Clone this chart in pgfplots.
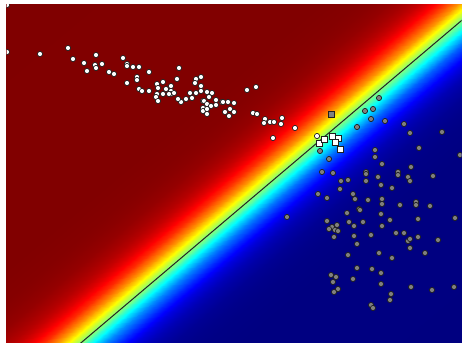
\documentclass[border=0pt]{standalone}
\usepackage{pgfplots}
\pgfplotsset{compat=1.18}
\definecolor{ptgrey}{RGB}{128,128,128}
\definecolor{ptedge}{RGB}{30,30,30}
\definecolor{frame}{RGB}{200,200,200}
\begin{document}
\begin{tikzpicture}
\path[use as bounding box] (-6.5pt,1.5pt) rectangle (455.5pt,343.5pt);
\begin{axis}[
  at={(0pt,0pt)}, anchor=south west,
  scale only axis, width=455pt, height=339pt,
  xmin=6.5, xmax=461.5, ymin=4.5, ymax=343.5, y dir=reverse,
  xtick=\empty, ytick=\empty,
  axis line style={draw=frame, line width=0.8pt},
  colormap/jet, point meta min=0, point meta max=1,
  clip marker paths=true,
]
% probability field: rows parallel to the boundary (s = signed distance, t = position along it)
\addplot[surf, shader=interp, point meta=explicit, mesh/cols=2]
 table[x expr=82-0.6463*\thisrow{s}+0.7631*\thisrow{t},
       y expr=342-0.7631*\thisrow{s}-0.6463*\thisrow{t}, meta=p] {
t s p
-100 -260 0
560 -260 0
-100 -100 0.0015
560 -100 0.0015
-100 -80 0.0055
560 -80 0.0055
-100 -70 0.0105
560 -70 0.0105
-100 -60 0.0198
560 -60 0.0198
-100 -50 0.0373
560 -50 0.0373
-100 -45 0.0509
560 -45 0.0509
-100 -40 0.0691
560 -40 0.0691
-100 -35 0.0932
560 -35 0.0932
-100 -30 0.1246
560 -30 0.1246
-100 -25 0.1645
560 -25 0.1645
-100 -20 0.2142
560 -20 0.2142
-100 -15 0.2739
560 -15 0.2739
-100 -10 0.3430
560 -10 0.3430
-100 -5 0.4194
560 -5 0.4194
-100 0 0.5
560 0 0.5
-100 5 0.5806
560 5 0.5806
-100 10 0.6570
560 10 0.6570
-100 15 0.7261
560 15 0.7261
-100 20 0.7858
560 20 0.7858
-100 25 0.8355
560 25 0.8355
-100 30 0.8754
560 30 0.8754
-100 35 0.9068
560 35 0.9068
-100 40 0.9309
560 40 0.9309
-100 45 0.9491
560 45 0.9491
-100 50 0.9627
560 50 0.9627
-100 60 0.9802
560 60 0.9802
-100 70 0.9895
560 70 0.9895
-100 80 0.9945
560 80 0.9945
-100 100 0.9985
560 100 0.9985
-100 320 1
560 320 1
};
% decision boundary
\addplot[draw={rgb,255:red,35;green,35;blue,35}, line width=1pt] coordinates {(37.1,380) (485.8,0)};
% class 0 (white circles)
\addplot[only marks, mark=*, mark size=2.6pt, mark options={fill=white, draw=ptedge, line width=0.7pt}] coordinates {
(7,5) (7,52) (40,54) (68,48) (73,59) (84,63) (87,71) (96,55) (95,65) (96,68)
(102,64) (109,72) (114,74) (123,58) (127,64) (127,66) (133,67) (139,67) (149,72) (127,83)
(137,77) (137,80) (139,89) (142,91) (149,91) (157,84) (157,94) (156,97) (158,101) (158,88)
(179,68) (163,82) (166,89) (171,86) (171,91) (171,94) (174,93) (169,94) (163,94) (177,79)
(196,79) (201,77) (195,83) (201,86) (201,91) (196,93) (190,93) (192,98) (186,99) (181,102)
(178,99) (207,92) (212,93) (209,97) (203,101) (204,101) (207,104) (211,106) (216,105) (216,100)
(222,102) (223,102) (228,102) (234,103) (203,108) (203,111) (207,109) (207,114) (230,109) (225,112)
(229,116) (234,112) (247,90) (256,87) (253,113) (257,114) (265,119) (264,123) (270,122) (274,122)
(282,118) (281,124) (295,128) (273,138) (317,136)
};
% class 0 squares
\addplot[only marks, mark=square*, mark size=3pt, mark options={fill=white, draw=ptedge, line width=0.7pt}] coordinates {
(319,143) (324,139) (332,136) (338,138) (335,142) (340,149)
};
% class 1 square
\addplot[only marks, mark=square*, mark size=3pt, mark options={fill=ptgrey, draw=ptedge, line width=0.7pt}] coordinates {
(331,114)
};
% class 1 (grey circles)
\addplot[only marks, mark=*, mark size=2.6pt, mark options={fill=ptgrey, draw=ptedge, line width=0.7pt}] coordinates {
(379,98) (365,111) (373,109) (371,119) (385,121) (357,127) (404,124) (410,133) (442,132) (419,148)
(375,150) (375,157) (382,164) (460,155) (411,167) (398,172) (398,175) (366,172) (366,174) (322,172)
(333,173) (378,177) (408,177) (410,181) (433,176) (341,181) (348,180) (366,181) (381,185) (392,188)
(340,189) (318,194) (327,198) (353,194) (355,199) (368,200) (382,199) (382,204) (400,205) (416,202)
(416,205) (430,206) (359,209) (320,151) (329,159)
(287,217) (347,213) (360,210) (381,214) (390,220) (418,219) (455,218) (327,221) (337,225) (332,227)
(329,229) (335,230) (338,231) (349,222) (354,226) (363,222) (382,226) (334,237) (354,236) (371,235)
(357,244) (396,233) (404,233) (418,237) (408,241) (410,239) (438,240) (410,248) (425,253) (379,253)
(348,255) (392,258) (357,268) (372,269) (381,273) (331,275) (336,277) (333,282) (353,279) (381,284)
(411,287) (432,290) (454,287) (338,289) (334,292) (391,294) (390,300) (371,305) (373,308)
};
\end{axis}
\end{tikzpicture}
\end{document}
